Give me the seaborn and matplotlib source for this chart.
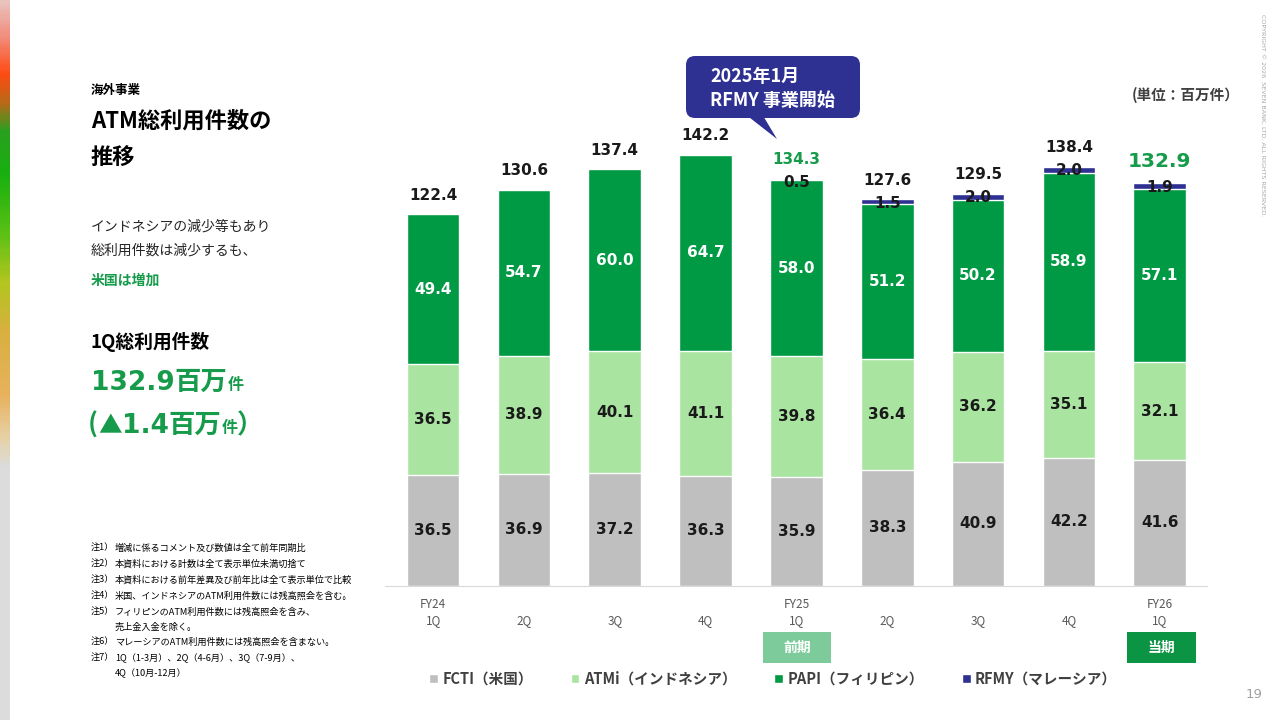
import numpy as np
import pandas as pd
import seaborn as sns
import matplotlib.pyplot as plt
from matplotlib.colors import LinearSegmentedColormap
from matplotlib.patches import FancyBboxPatch, Polygon, Rectangle
from matplotlib.font_manager import FontProperties

# Data
periods = ["FY24 1Q", "FY24 2Q", "FY24 3Q", "FY24 4Q", "FY25 1Q",
           "FY25 2Q", "FY25 3Q", "FY25 4Q", "FY26 1Q"]
tick_labels = ["FY24\n1Q", "\n2Q", "\n3Q", "\n4Q", "FY25\n1Q",
               "\n2Q", "\n3Q", "\n4Q", "FY26\n1Q"]
fcti = [36.5, 36.9, 37.2, 36.3, 35.9, 38.3, 40.9, 42.2, 41.6]
atmi = [36.5, 38.9, 40.1, 41.1, 39.8, 36.4, 36.2, 35.1, 32.1]
papi = [49.4, 54.7, 60.0, 64.7, 58.0, 51.2, 50.2, 58.9, 57.1]
rfmy = [0, 0, 0, 0, 0.5, 1.5, 2.0, 2.0, 1.9]
totals = [122.4, 130.6, 137.4, 142.2, 134.3, 127.6, 129.5, 138.4, 132.9]
series_names = ["FCTI（米国）", "ATMi（インドネシア）", "PAPI（フィリピン）", "RFMY（マレーシア）"]

notes = [
    ("注1）", "増減に係るコメント及び数値は全て前年同期比"),
    ("注2）", "本資料における計数は全て表示単位未満切捨て"),
    ("注3）", "本資料における前年差異及び前年比は全て表示単位で比較"),
    ("注4）", "米国、インドネシアのATM利用件数には残高照会を含む。"),
    ("注5）", "フィリピンのATM利用件数には残高照会を含み、"),
    ("", "売上金入金を除く。"),
    ("注6）", "マレーシアのATM利用件数には残高照会を含まない。"),
    ("注7）", "1Q（1-3月）、2Q（4-6月）、3Q（7-9月）、"),
    ("", "4Q（10月-12月）"),
]

GREY = "#BFBFBF"
LIGHT = "#A9E4A0"
DARK = "#009A44"
NAVY = "#2E3192"
TXTGREEN = "#169B4B"
JP = ["Noto Sans CJK JP", "DejaVu Sans"]

sns.set_style("white")
plt.rcParams["font.family"] = ["DejaVu Sans", "Noto Sans CJK JP"]

df = pd.DataFrame({"period": periods, "fcti": fcti, "atmi": atmi,
                   "papi": papi, "rfmy": rfmy})
df["s1"] = df["fcti"]
df["s2"] = df["s1"] + df["atmi"]
df["s3"] = df["s2"] + df["papi"]
df["s4"] = df["s3"] + df["rfmy"]

fig = plt.figure(figsize=(12.8, 7.2), dpi=100)
ax = fig.add_axes([385 / 1280, 1 - 586 / 720, 822 / 1280, 0.6745])
ax.patch.set_alpha(0)

# stacked bars: draw cumulative heights from tallest to shortest
layers = [("s4", NAVY, series_names[3]), ("s3", DARK, series_names[2]),
          ("s2", LIGHT, series_names[1]), ("s1", GREY, series_names[0])]
for col, color, name in layers:
    sns.barplot(data=df, x="period", y=col, order=periods, color=color,
                saturation=1, width=0.58, errorbar=None, label=name, ax=ax)

handles, labels = ax.get_legend_handles_labels()
if ax.get_legend() is not None:
    ax.get_legend().remove()

ax.set_xlim(-0.53, 8.52)
ax.set_ylim(0, 160)
ax.set_xlabel("")
ax.set_ylabel("")
ax.set_yticks([])
sns.despine(ax=ax, left=True)
ax.spines["bottom"].set_color("#D9D9D9")
ax.set_xticks(range(len(periods)))
ax.set_xticklabels(tick_labels, color="#595959", fontsize=8.5, family=JP)
for t in ax.get_xticklabels():
    t.set_linespacing(1.3)
ax.tick_params(axis="x", length=0, pad=9)

vfont = dict(fontsize=11, fontweight="bold", ha="center", va="center")
for i in range(len(periods)):
    ax.text(i, fcti[i] / 2, f"{fcti[i]:.1f}", color="#1a1a1a", **vfont)
    ax.text(i, df.s1[i] + atmi[i] / 2, f"{atmi[i]:.1f}", color="#1a1a1a", **vfont)
    ax.text(i, df.s2[i] + papi[i] / 2, f"{papi[i]:.1f}", color="white", **vfont)
    if rfmy[i] > 0:
        ax.text(i, df.s4[i] - 1.4, f"{rfmy[i]:.1f}", color="#1a1a1a", **vfont)
    if i == len(periods) - 1:
        ax.text(i, df.s4[i] + 7.2, f"{totals[i]:.1f}", color=TXTGREEN,
                fontsize=14.5, fontweight="bold", ha="center", va="center")
    elif i == 4:
        ax.text(i, df.s4[i] + 6.2, f"{totals[i]:.1f}", color=TXTGREEN, **vfont)
    else:
        ax.text(i, df.s4[i] + 6.3, f"{totals[i]:.1f}", color="#1a1a1a", **vfont)

hmap = dict(zip(labels, handles))
fig.legend([hmap[n] for n in series_names], series_names, loc="center",
           bbox_to_anchor=(773 / 1280, 1 - 679 / 720), ncol=4, frameon=False,
           prop=FontProperties(family=JP, weight="bold", size=10.5),
           labelcolor="#404040", handlelength=0.6, handleheight=0.6,
           handletextpad=0.3, columnspacing=2.6)

# decoration layer in pixel coordinates
deco = fig.add_axes([0, 0, 1, 1])
deco.axis("off")

stops = [(0.0, "#E9C2BE"), (0.05, "#F28A78"), (0.10, "#FF4A12"),
         (0.14, "#B86A18"), (0.18, "#2AA020"), (0.24, "#18B010"),
         (0.32, "#58C014"), (0.39, "#B2C61E"), (0.46, "#D8B040"),
         (0.55, "#E8B25E"), (0.61, "#E6D2A8"), (0.65, "#DCDCDC"),
         (1.0, "#DCDCDC")]
cmap = LinearSegmentedColormap.from_list("stripe", stops)
deco.imshow(np.linspace(0, 1, 300).reshape(-1, 1), cmap=cmap, aspect="auto",
            extent=(0, 10, 720, 0))

# callout
deco.add_patch(FancyBboxPatch((692, 62), 162, 50, boxstyle="round,pad=6,rounding_size=9",
                              fc=NAVY, ec="none"))
deco.add_patch(Polygon([(745, 114), (762, 114), (777, 139)], closed=True,
                       fc=NAVY, ec="none"))
deco.text(710, 76, "2025年1月", color="white", fontsize=13, fontweight="bold",
          family=JP, va="center")
deco.text(710, 100, "RFMY 事業開始", color="white", fontsize=13, fontweight="bold",
          family=JP, va="center")

deco.text(1240, 95, "(単位：百万件）", color="#404040", fontsize=10.5,
          fontweight="bold", family=JP, ha="right", va="center")

deco.text(1263, 14, "COPYRIGHT © 2026  SEVEN BANK, LTD. ALL RIGHTS RESERVED.",
          rotation=270, fontsize=4.6, color="#A8A8A8", ha="center", va="top")
deco.text(1262, 694, "19", fontsize=9.5, color="#A0A0A0", ha="right", va="center")

# period boxes
deco.add_patch(Rectangle((763, 632), 68, 31, fc="#7DCB9B", ec="none"))
deco.text(797, 648, "前期", color="white", fontsize=10, fontweight="bold",
          family=JP, ha="center", va="center")
deco.add_patch(Rectangle((1127, 632), 69, 31, fc="#0B9444", ec="none"))
deco.text(1161, 648, "当期", color="white", fontsize=10, fontweight="bold",
          family=JP, ha="center", va="center")

# left side text
deco.text(91, 90, "海外事業", fontsize=9, fontweight="bold", family=JP,
          color="black", va="center")
deco.text(91, 121, "ATM総利用件数の", fontsize=16, fontweight="bold", family=JP,
          color="black", va="center")
deco.text(91, 158, "推移", fontsize=16, fontweight="bold", family=JP,
          color="black", va="center")
deco.text(91, 227, "インドネシアの減少等もあり", fontsize=10, family=JP,
          color="#262626", va="center")
deco.text(91, 251, "総利用件数は減少するも、", fontsize=10, family=JP,
          color="#262626", va="center")
deco.text(91, 281, "米国は増加", fontsize=10, fontweight="bold", family=JP,
          color=TXTGREEN, va="center")
deco.text(91, 342, "1Q総利用件数", fontsize=13.5, fontweight="bold", family=JP,
          color="black", va="center")

renderer = fig.canvas.get_renderer()


def text_run(x, y, parts):
    for s, size, fam in parts:
        t = deco.text(x, y, s, fontsize=size, fontweight="bold", family=fam,
                      color=TXTGREEN, va="baseline")
        x += t.get_window_extent(renderer).width


text_run(91, 390, [("132.9", 19, ["DejaVu Sans"]), ("百万", 19, JP), ("件", 11.5, JP)])
text_run(88, 433, [("(", 19, JP), ("▲", 17, JP), ("1.4", 19, ["DejaVu Sans"]),
                   ("百万", 19, JP), ("件", 11.5, JP), ("）", 19, JP)])

for k, (head, body) in enumerate(notes):
    y = [548, 564, 580, 596, 612, 627, 642, 658, 673][k]
    if head:
        deco.text(91, y, head, fontsize=6.6, family=JP, color="black", va="center")
    deco.text(115, y, body, fontsize=6.6, family=JP, color="black", va="center")

deco.set_xlim(0, 1280)
deco.set_ylim(720, 0)

fig.savefig("out.png", dpi=100)
